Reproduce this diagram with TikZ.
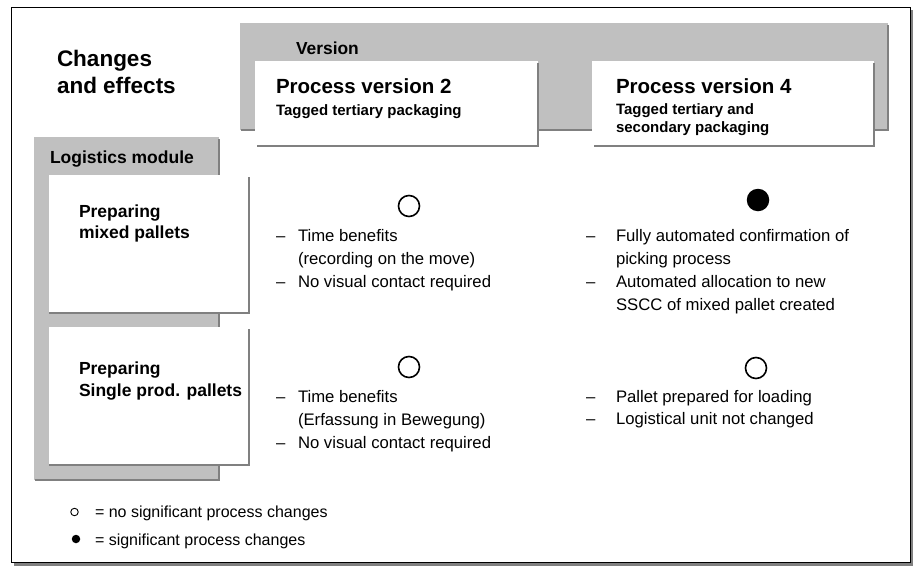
\documentclass[tikz,border=0pt]{standalone}
\usepackage{fontspec}
\setmainfont{Liberation Sans}
\definecolor{lgray}{RGB}{192,192,192}
\definecolor{dgray}{RGB}{128,128,128}
\begin{document}
\begin{tikzpicture}[x=1pt,y=-1pt,
  box/.style={inner sep=0pt, outer sep=0pt, anchor=north west, draw=none},
  graybox/.style={box, fill=lgray},
  whitebox/.style={box, fill=white},
  edge/.style={draw=dgray, line width=1.6pt},
  txt/.style={anchor=base west, inner sep=0pt, outer sep=0pt},
  bigtitle/.style={txt, font=\fontsize{22.5}{27}\selectfont\bfseries},
  pvtitle/.style={txt, font=\fontsize{20.5}{24}\selectfont\bfseries},
  subtitle/.style={txt, font=\fontsize{15}{18}\selectfont\bfseries},
  rowtitle/.style={txt, font=\fontsize{17.5}{21}\selectfont\bfseries},
  body/.style={txt, font=\fontsize{16.7}{23}\selectfont},
  legend/.style={txt, font=\fontsize{16}{20}\selectfont},
  mark open/.style={circle, draw=black, line width=1.6pt, fill=white, minimum size=21pt, inner sep=0pt},
  mark full/.style={circle, fill=black, minimum size=22.5pt, inner sep=0pt},
]
\useasboundingbox (0,0) rectangle (914,568);
\fill[white] (0,0) rectangle (914,568);

% outer frame with shadow
\node[box, fill=dgray, minimum width=899, minimum height=556] (shadow) at (14,10) {};
\node[box, fill=white, draw=black, line width=1pt, minimum width=899, minimum height=555] (frame) at (11,7) {};

% version band
\node[graybox, minimum width=648, minimum height=107] (ver) at (240,23) {};
\draw[edge] ([yshift=-2pt]ver.north east) -- (ver.south east) -- ([xshift=1pt]ver.south west);
\node[txt, font=\fontsize{17.4}{20}\selectfont\bfseries] (vertxt) at (296,54) {Version};

% process version boxes
\node[whitebox, minimum width=283, minimum height=85] (pv2) at (255,61) {};
\draw[edge] ([yshift=-2pt]pv2.north east) -- (pv2.south east) -- ([xshift=2pt]pv2.south west);
\node[whitebox, minimum width=282, minimum height=85] (pv4) at (592,61) {};
\draw[edge] ([yshift=-2pt]pv4.north east) -- (pv4.south east) -- ([xshift=2pt]pv4.south west);

\node[pvtitle] (pv2t) at (276,93) {Process version 2};
\node[subtitle] (pv2s) at (276,115) {Tagged tertiary packaging};
\node[pvtitle] (pv4t) at (616,93) {Process version 4};
\node[subtitle] (pv4s1) at (616,114) {Tagged tertiary and};
\node[subtitle] (pv4s2) at (616,132) {secondary packaging};

% changes and effects
\node[bigtitle] (ce1) at (57,66) {Changes};
\node[bigtitle] (ce2) at (57,93) {and effects};

% logistics module
\node[graybox, minimum width=185, minimum height=343] (lm) at (34,137) {};
\draw[edge] ([yshift=-2pt]lm.north east) -- (lm.south east) -- ([xshift=1pt]lm.south west);
\node[rowtitle] (lmt) at (50,163) {Logistics module};

\node[whitebox, minimum width=200, minimum height=138] (r1) at (49,175) {};
\draw[edge] ([yshift=-2pt]r1.north east) -- (r1.south east) -- (r1.south west);
\node[whitebox, minimum width=200, minimum height=138] (r2) at (49,327) {};
\draw[edge] ([yshift=-2pt]r2.north east) -- (r2.south east) -- (r2.south west);

\node[rowtitle] (r1t1) at (79,217) {Preparing};
\node[rowtitle] (r1t2) at (79,238) {mixed pallets};
\node[rowtitle] (r2t1) at (79,374) {Preparing};
\node[rowtitle] (r2t2) at (79,396) {Single prod. pallets};

% marks
\node[mark open] (m12) at (409,206) {};
\node[mark full] (m14) at (758,200) {};
\node[mark open] (m22) at (409,367) {};
\node[mark open] (m24) at (756,368) {};

% row 1, version 2
\node[body] (d121) at (276,241) {–};
\node[body] (t121) at (298,241) {Time benefits};
\node[body] (t122) at (298,264) {(recording on the move)};
\node[body] (d123) at (276,287) {–};
\node[body] (t123) at (298,287) {No visual contact required};

% row 1, version 4
\node[body] (d141) at (586,241) {–};
\node[body] (t141) at (616,241) {Fully automated confirmation of};
\node[body] (t142) at (616,264) {picking process};
\node[body] (d143) at (586,287) {–};
\node[body] (t143) at (616,287) {Automated allocation to new};
\node[body] (t144) at (616,310) {SSCC of mixed pallet created};

% row 2, version 2
\node[body] (d221) at (276,402) {–};
\node[body] (t221) at (298,402) {Time benefits};
\node[body] (t222) at (298,425) {(Erfassung in Bewegung)};
\node[body] (d223) at (276,448) {–};
\node[body] (t223) at (298,448) {No visual contact required};

% row 2, version 4
\node[body] (d241) at (586,402) {–};
\node[body] (t241) at (616,402) {Pallet prepared for loading};
\node[body] (d242) at (586,424) {–};
\node[body] (t242) at (616,424) {Logistical unit not changed};

% legend
\node[circle, draw=black, line width=0.9pt, minimum size=7.5pt, inner sep=0pt] (lg1) at (74.5,512) {};
\node[legend] (lg1t) at (95,517) {= no significant process changes};
\node[circle, fill=black, minimum size=8.5pt, inner sep=0pt] (lg2) at (76,539) {};
\node[legend] (lg2t) at (95,545) {= significant process changes};
\end{tikzpicture}
\end{document}
